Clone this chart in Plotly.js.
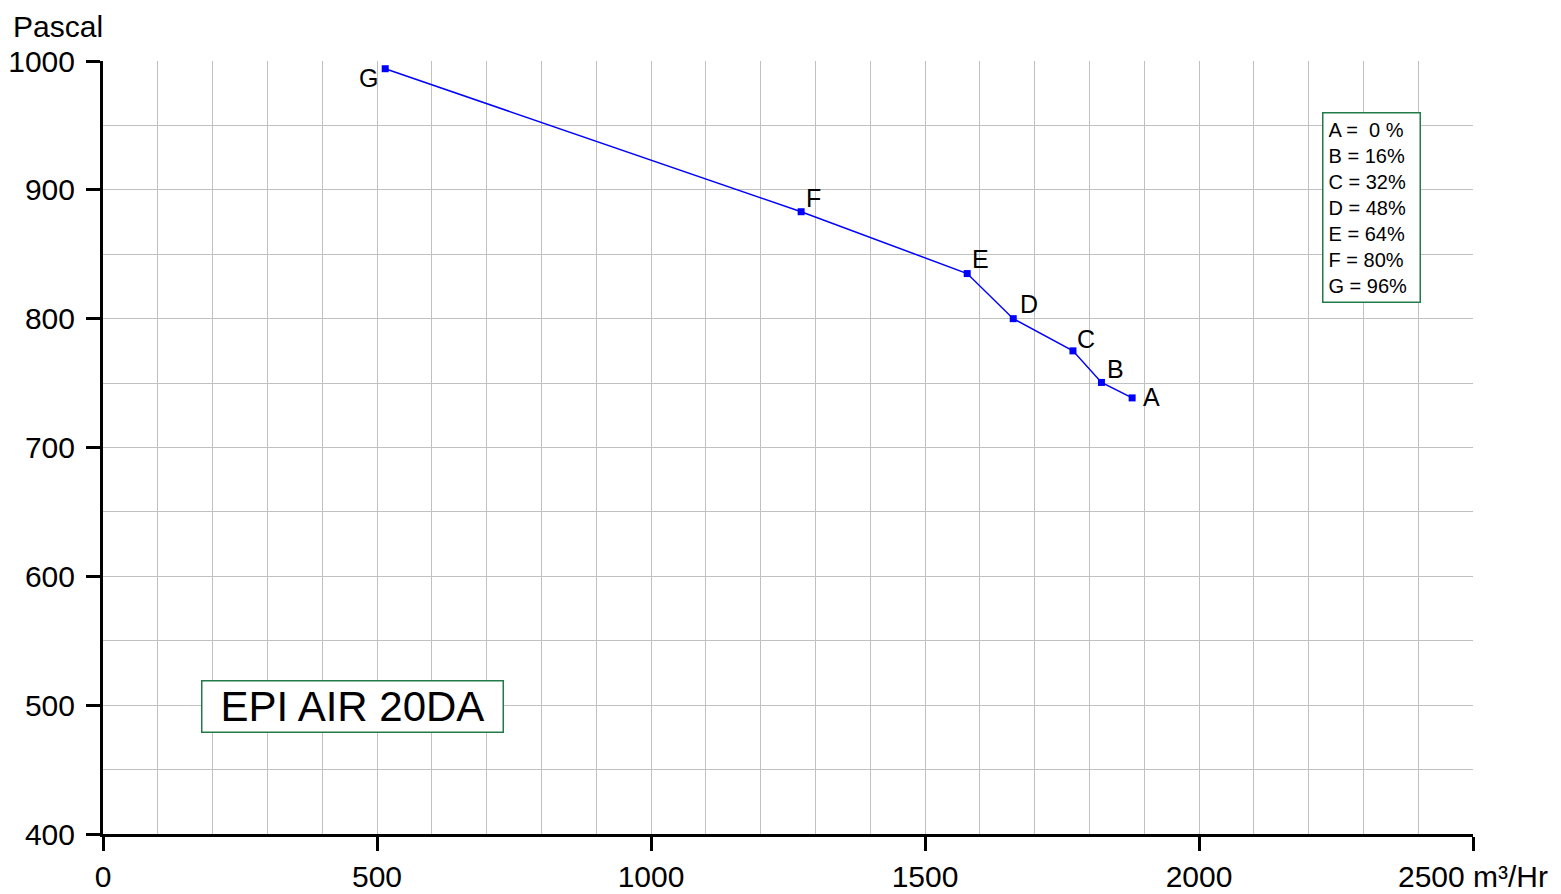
<!DOCTYPE html>
<html>
<head>
<meta charset="utf-8">
<script src="https://cdn.plot.ly/plotly-3.0.1.min.js"></script>
<style>html,body{margin:0;padding:0;background:#fff;}#chart{width:1561px;height:894px;}</style>
</head>
<body>
<div id="chart"></div>
<script>
const pointLabels = ["G", "F", "E", "D", "C", "B", "A"];
const airflow = [515, 1274, 1577, 1661, 1770, 1822, 1878];
const pressure = [994, 883, 835, 800, 775, 750.5, 738.5];
const xTickValues = [0, 500, 1000, 1500, 2000, 2500];
const xTickLabels = ["0", "500", "1000", "1500", "2000", "2500 m³/Hr"];
const legendLines = ["A = &nbsp;0 %", "B = 16%", "C = 32%", "D = 48%", "E = 64%", "F = 80%", "G = 96%"];
const modelName = "EPI AIR 20DA";
const yTitle = "Pascal";

// label placement styles (per point, same order as pointLabels)
const labelStyle = {
  xanchor: ["right", "left", "left", "left", "left", "left", "left"],
  yanchor: ["middle", "bottom", "bottom", "bottom", "bottom", "bottom", "middle"],
  dx: [-5, 3, 3, 5, 2, 4, 9],
  dy: [-9, -2, -1, -1, -4, -3, 1]
};

const FONT = "Liberation Sans, Arial, sans-serif";
const GREEN = "#217a48";

const trace = {
  x: airflow, y: pressure,
  type: "scatter", mode: "lines+markers",
  line: {color: "#0000ff", width: 1.5},
  marker: {symbol: "square", size: 7, color: "#0000ff"},
  hoverinfo: "x+y", cliponaxis: false
};

const labelAnnotations = pointLabels.map((t, i) => ({
  text: t, x: airflow[i], y: pressure[i], xref: "x", yref: "y",
  xanchor: labelStyle.xanchor[i], yanchor: labelStyle.yanchor[i],
  xshift: labelStyle.dx[i], yshift: labelStyle.dy[i],
  showarrow: false, font: {family: FONT, size: 25, color: "#000"}
}));

const layout = {
  width: 1561, height: 894,
  margin: {l: 103, r: 88, t: 61, b: 60},
  paper_bgcolor: "#fff", plot_bgcolor: "#fff",
  showlegend: false,
  font: {family: FONT, size: 30, color: "#000"},
  xaxis: {
    range: [0, 2500], tickmode: "array", tickvals: xTickValues, ticktext: xTickLabels,
    showline: true, linecolor: "#000", linewidth: 3,
    ticks: "outside", ticklen: 14, tickwidth: 3, tickcolor: "#000",
    ticklabelstandoff: 0,
    showgrid: true, gridcolor: "#c0c0c0", gridwidth: 1,
    minor: {dtick: 100, tick0: 0, showgrid: true, gridcolor: "#c0c0c0", gridwidth: 1, ticks: ""},
    zeroline: false, tickfont: {family: FONT, size: 30, color: "#000"},
    fixedrange: true
  },
  yaxis: {
    range: [400, 1000], dtick: 100, tick0: 400,
    showline: true, linecolor: "#000", linewidth: 3,
    ticks: "outside", ticklen: 14, tickwidth: 3, tickcolor: "#000",
    ticklabelstandoff: 5,
    showgrid: true, gridcolor: "#c0c0c0", gridwidth: 1,
    minor: {dtick: 50, showgrid: true, gridcolor: "#c0c0c0", gridwidth: 1, ticks: ""},
    zeroline: false, tickfont: {family: FONT, size: 30, color: "#000"},
    fixedrange: true
  },
  annotations: [
    {text: yTitle, xref: "paper", yref: "paper", x: 0, y: 1.0, xanchor: "left", yanchor: "bottom",
     xshift: -92, yshift: 16, showarrow: false, font: {family: FONT, size: 30, color: "#000"}},
    {text: legendLines.join("<br>"), xref: "x", yref: "y", x: 2225, y: 960.3, xanchor: "left", yanchor: "top",
     align: "left", width: 86, showarrow: false, bgcolor: "#fff", bordercolor: GREEN, borderwidth: 1.5, borderpad: 5,
     font: {family: FONT, size: 20, color: "#000"}},
    {text: modelName, xref: "x", yref: "y", x: 456, y: 499, xanchor: "center", yanchor: "middle",
     width: 290, height: 40, showarrow: false, bgcolor: "#fff", bordercolor: GREEN, borderwidth: 1.5, borderpad: 5,
     font: {family: FONT, size: 42, color: "#000"}}
  ].concat(labelAnnotations)
};

Plotly.newPlot("chart", [trace], layout, {displayModeBar: false, staticPlot: true});
</script>
</body>
</html>
